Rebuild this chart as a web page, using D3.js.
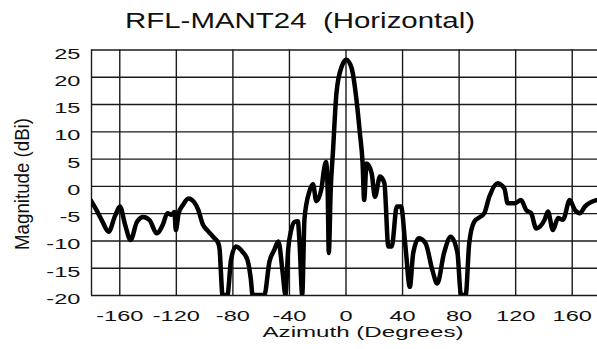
<!DOCTYPE html>
<html>
<head>
<meta charset="utf-8">
<script src="https://cdn.jsdelivr.net/npm/d3@7"></script>
<style>
  body { margin: 0; background: #fff; }
  svg { display: block; font-family: "Liberation Sans", Arial, sans-serif; }
</style>
</head>
<body>
<div id="chart"></div>
<script>
// chart values
var title = "RFL-MANT24\u00a0\u00a0(Horizontal)";
var xLabel = "Azimuth (Degrees)";
var yLabel = "Magnitude (dBi)";

var xTicks = [-160, -120, -80, -40, 0, 40, 80, 120, 160];
var yTicks = [25, 20, 15, 10, 5, 0, -5, -10, -15, -20];

// azimuth (degrees) and gain (dBi), floor clipped at -20
var azimuth = [
  -180, -176, -172, -167.5, -163, -159.5, -156, -152, -147.5, -143, -138.5, -133.5,
  -129, -126, -123, -121, -120, -118, -115, -111, -107, -104, -101, -97.5, -93, -90,
  -89, -88.2, -87, -83.5, -81, -77.5, -72.8, -69.3, -67, -65.7, -57.4, -53.8, -50.3,
  -47.5, -44.4, -42.5, -40.5, -38.4, -36, -33.7, -32.5, -30.6, -29, -25.5, -23, -20.6,
  -17, -15.5, -13.8, -12.6, -11.8, -10.5, -8.8, -6.4, -2.8, 0.5, 4.3, 7.8, 10.2, 12.1,
  13.2, 14.9, 18.5, 20.8, 24.4, 27.5, 30.3, 32.7, 36.3, 39.3, 42.4, 45.5, 47.9, 51.9,
  56.6, 61.4, 64.9, 69.7, 74.4, 79.2, 81.5, 83, 85, 87.5, 91, 98.2, 101.7, 107.6, 112.4,
  114.7, 119.5, 124.2, 127.7, 131.3, 134.9, 140.8, 143.2, 146.7, 150.3, 153.8, 158.6,
  162.2, 165.7, 169.3, 177.5, 180
];
var gain = [
  -2.7, -4.5, -6.5, -8.4, -5.5, -3.8, -7, -9.9, -6.6, -5.7, -6.3, -8.7,
  -7, -5.0, -5.3, -4.8, -8.1, -5.0, -3.5, -2.3, -3, -4.5, -7, -8.2, -9.5, -10.5,
  -11.7, -15.4, -20, -20, -13.6, -11.1, -12.1, -13.6, -17, -20, -20, -13.9, -11.7,
  -10.2, -16, -20, -11.5, -8.1, -6.6, -6.5, -10.5, -20, -6, -1, 0.3, -2.8,
  -0.5, 2.5, 4.4, -1, -12.3, -1, 6.6, 17, 21.8, 23.1, 21.6, 15.7, 9.6, 4.1,
  -2.6, 4.1, 2.3, -2, 1.7, 0.5, -11.1, -11.1, -3.8, -3.8, -11.1, -18.5, -12.3, -9.6,
  -10.5, -15.4, -17.9, -12.3, -9.3, -12.3, -19.7, -20, -20, -10.5, -6.6, -5, -2, 0.5, -0.5,
  -3.2, -3.2, -2.6, -4.4, -5, -7.8, -6.2, -4.7, -8.1, -5.9, -6.2, -2.6,
  -4.4, -5, -3.8, -2.6, -2.5
];

var svgWidth = 597;
var svgHeight = 349;

var margin = { top: 49.5, left: 91 };
var width = 509;
var height = 245.5;

var svg = d3.select("#chart")
  .append("svg")
  .attr("width", svgWidth)
  .attr("height", svgHeight);

var chartGroup = svg.append("g")
  .attr("transform", `translate(${margin.left}, ${margin.top})`);

var xScale = d3.scaleLinear().domain([-180, 180]).range([0, width]);
var yScale = d3.scaleLinear().domain([-20, 25]).range([height, 0]);

// grid lines
chartGroup.append("g")
  .attr("class", "grid")
  .attr("transform", `translate(0, ${height})`)
  .call(d3.axisBottom(xScale).tickValues(xTicks.concat([-180])).tickSize(-height).tickFormat(""));

chartGroup.append("g")
  .attr("class", "grid")
  .call(d3.axisLeft(yScale).tickValues(yTicks).tickSize(-width).tickFormat(""));

chartGroup.selectAll(".grid .domain").remove();
chartGroup.selectAll(".grid line")
  .attr("stroke", "#1a1a1a")
  .attr("stroke-width", 1.4);

// the pattern
chartGroup.append("clipPath").attr("id", "plot-clip")
  .append("rect")
  .attr("x", 0).attr("y", -2)
  .attr("width", width).attr("height", height + 2);

var points = azimuth.map((a, i) => [a, gain[i]]);

var line = d3.line()
  .x(d => xScale(d[0]))
  .y(d => yScale(d[1]))
  .curve(d3.curveMonotoneX);

chartGroup.append("path")
  .datum(points)
  .attr("clip-path", "url(#plot-clip)")
  .attr("fill", "none")
  .attr("stroke", "#000")
  .attr("stroke-width", 4.5)
  .attr("stroke-linejoin", "round")
  .attr("stroke-linecap", "round")
  .attr("d", line);

// tick labels (the picture is stretched sideways, so are the labels)
// plain hyphen for negatives, like the original
var plain = d => String(d);

var xAxis = chartGroup.append("g")
  .attr("transform", `translate(0, ${height})`)
  .call(d3.axisBottom(xScale).tickValues(xTicks).tickSize(0).tickPadding(15).tickFormat(plain));

var yAxis = chartGroup.append("g")
  .call(d3.axisLeft(yScale).tickValues(yTicks).tickSize(0).tickPadding(7).tickFormat(plain));

[xAxis, yAxis].forEach(function(ax) {
  ax.select(".domain").remove();
  ax.selectAll("text")
    .attr("fill", "#111")
    .style("font-size", "15.5px")
    .style("font-family", "'Liberation Sans', Arial, sans-serif")
    .attr("transform", "scale(1.52,1)");
});
yAxis.selectAll("text").attr("dy", "0.55em");

// titles
svg.append("text")
  .attr("x", 300)
  .attr("y", 28)
  .attr("text-anchor", "middle")
  .attr("textLength", 350)
  .attr("lengthAdjust", "spacingAndGlyphs")
  .style("font-size", "22px")
  .attr("fill", "#111")
  .text(title);

svg.append("text")
  .attr("x", 363)
  .attr("y", 337)
  .attr("text-anchor", "middle")
  .attr("textLength", 201)
  .attr("lengthAdjust", "spacingAndGlyphs")
  .style("font-size", "15.5px")
  .attr("fill", "#111")
  .text(xLabel);

svg.append("text")
  .attr("transform", "translate(28.5, 184) scale(1.16,1) rotate(-90)")
  .attr("text-anchor", "middle")
  .attr("textLength", 132)
  .attr("lengthAdjust", "spacingAndGlyphs")
  .style("font-size", "18px")
  .attr("fill", "#111")
  .text(yLabel);
</script>
</body>
</html>
